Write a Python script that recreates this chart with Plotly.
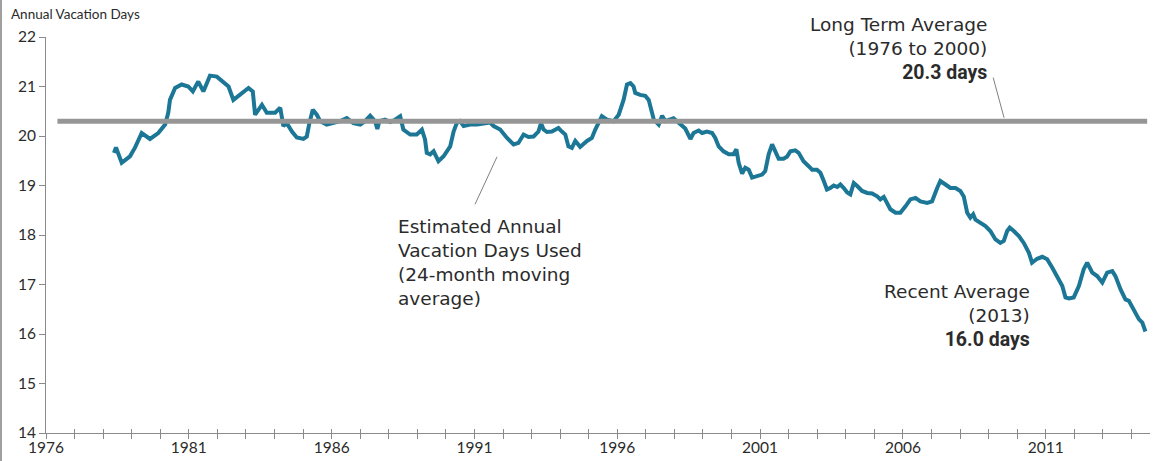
import plotly.graph_objects as go

# ---- data ----
years = [1978.38, 1978.45, 1978.65, 1978.94, 1979.12, 1979.35, 1979.64, 1979.93, 1980.17, 1980.28,
         1980.34, 1980.52, 1980.75, 1980.98, 1981.14, 1981.33, 1981.51, 1981.74, 1981.98, 1982.21,
         1982.39, 1982.56, 1982.80, 1983.09, 1983.24, 1983.32, 1983.56, 1983.73, 1984.02, 1984.20,
         1984.31, 1984.43, 1984.61, 1984.78, 1985.01, 1985.13, 1985.22, 1985.34, 1985.48, 1985.60,
         1985.83, 1986.06, 1986.30, 1986.53, 1986.76, 1987.00, 1987.17, 1987.35, 1987.52, 1987.60,
         1987.67, 1987.87, 1988.05, 1988.22, 1988.40, 1988.51, 1988.75, 1988.98, 1989.16, 1989.27,
         1989.33, 1989.45, 1989.57, 1989.74, 1989.92, 1990.15, 1990.27, 1990.38, 1990.50, 1990.62,
         1990.85, 1991.09, 1991.32, 1991.55, 1991.67, 1991.90, 1992.14, 1992.37, 1992.54, 1992.72,
         1992.89, 1993.07, 1993.24, 1993.33, 1993.42, 1993.54, 1993.71, 1993.94, 1994.06, 1994.18,
         1994.29, 1994.41, 1994.53, 1994.70, 1994.94, 1995.11, 1995.23, 1995.34, 1995.46, 1995.64,
         1995.87, 1996.05, 1996.22, 1996.34, 1996.46, 1996.57, 1996.63, 1996.80, 1996.98, 1997.10,
         1997.22, 1997.28, 1997.45, 1997.57, 1997.68, 1997.86, 1997.97, 1998.09, 1998.21, 1998.38,
         1998.56, 1998.67, 1998.85, 1998.97, 1999.14, 1999.32, 1999.43, 1999.55, 1999.72, 1999.90,
         2000.07, 2000.17, 2000.25, 2000.37, 2000.48, 2000.60, 2000.72, 2000.89, 2001.07, 2001.18,
         2001.30, 2001.42, 2001.53, 2001.65, 2001.82, 2001.94, 2002.06, 2002.23, 2002.35, 2002.52,
         2002.70, 2002.82, 2002.99, 2003.11, 2003.23, 2003.34, 2003.46, 2003.58, 2003.70, 2003.81,
         2003.93, 2004.05, 2004.16, 2004.22, 2004.28, 2004.40, 2004.57, 2004.75, 2004.92, 2005.10,
         2005.21, 2005.33, 2005.45, 2005.56, 2005.74, 2005.91, 2006.09, 2006.26, 2006.44, 2006.61,
         2006.85, 2007.02, 2007.20, 2007.31, 2007.49, 2007.66, 2007.84, 2008.01, 2008.13, 2008.25,
         2008.36, 2008.46, 2008.54, 2008.71, 2008.89, 2009.06, 2009.24, 2009.41, 2009.53, 2009.65,
         2009.74, 2009.88, 2010.06, 2010.23, 2010.41, 2010.52, 2010.70, 2010.88, 2011.05, 2011.23,
         2011.40, 2011.58, 2011.69, 2011.81, 2011.98, 2012.16, 2012.33, 2012.45, 2012.63, 2012.80,
         2012.98, 2013.15, 2013.33, 2013.44, 2013.62, 2013.79, 2013.91, 2014.08, 2014.26, 2014.38,
         2014.49]
vacation_days = [19.66, 19.77, 19.46, 19.59, 19.77, 20.06, 19.94, 20.06, 20.23, 20.47,
                 20.73, 20.97, 21.04, 21.00, 20.90, 21.10, 20.90, 21.22, 21.20, 21.10,
                 21.00, 20.73, 20.83, 20.97, 20.90, 20.43, 20.63, 20.47, 20.47, 20.57,
                 20.20, 20.26, 20.09, 19.97, 19.94, 19.99, 20.26, 20.53, 20.43, 20.30,
                 20.23, 20.26, 20.30, 20.36, 20.26, 20.23, 20.30, 20.41, 20.30, 20.14,
                 20.30, 20.33, 20.28, 20.33, 20.40, 20.13, 20.03, 20.03, 20.13, 19.93,
                 19.66, 19.63, 19.69, 19.49, 19.59, 19.79, 20.09, 20.26, 20.30, 20.20,
                 20.23, 20.23, 20.26, 20.27, 20.20, 20.13, 19.96, 19.83, 19.86, 20.03,
                 19.98, 19.99, 20.09, 20.26, 20.13, 20.08, 20.09, 20.16, 20.09, 20.03,
                 19.79, 19.76, 19.90, 19.78, 19.90, 19.96, 20.13, 20.26, 20.40, 20.33,
                 20.30, 20.43, 20.73, 21.04, 21.07, 21.00, 20.87, 20.83, 20.81, 20.73,
                 20.50, 20.33, 20.23, 20.41, 20.30, 20.33, 20.36, 20.30, 20.24, 20.15,
                 19.94, 20.06, 20.11, 20.06, 20.09, 20.06, 19.96, 19.79, 19.69, 19.63,
                 19.63, 19.73, 19.46, 19.24, 19.36, 19.32, 19.16, 19.19, 19.22, 19.29,
                 19.63, 19.83, 19.69, 19.54, 19.54, 19.58, 19.69, 19.71, 19.66, 19.49,
                 19.39, 19.32, 19.32, 19.26, 19.09, 18.92, 18.95, 19.00, 18.97, 19.02,
                 18.95, 18.86, 18.82, 18.95, 19.05, 18.99, 18.89, 18.85, 18.84, 18.78,
                 18.72, 18.77, 18.65, 18.52, 18.45, 18.45, 18.58, 18.72, 18.75, 18.68,
                 18.65, 18.68, 18.95, 19.09, 19.02, 18.95, 18.95, 18.89, 18.78, 18.45,
                 18.35, 18.42, 18.31, 18.25, 18.18, 18.08, 17.91, 17.84, 17.88, 18.08,
                 18.15, 18.08, 17.98, 17.84, 17.64, 17.44, 17.52, 17.56, 17.51, 17.34,
                 17.17, 16.97, 16.74, 16.72, 16.74, 16.97, 17.31, 17.44, 17.24, 17.17,
                 17.04, 17.24, 17.27, 17.17, 16.90, 16.70, 16.67, 16.50, 16.30, 16.23,
                 16.05]

avg_years = [1976.4, 2014.55]
long_term_average = [20.3, 20.3]

tick_years = [1976, 1981, 1986, 1991, 1996, 2001, 2006, 2011]
tick_labels = ["1976", "1981", "1986", "1991", "1996", "2001", "2006", "2011"]
y_ticks = [14, 15, 16, 17, 18, 19, 20, 21, 22]

X_RANGE = [1976, 2014.65]
Y_RANGE = [14, 22]

TEXT = "#2b2b2b"
AXIS = "#8a8a8a"
BLUE = "#1b7795"
GRAY = "#969696"

fig = go.Figure()
fig.add_trace(go.Scatter(x=years, y=vacation_days, mode="lines",
                         line=dict(color=BLUE, width=4), hoverinfo="skip", showlegend=False))
fig.add_trace(go.Scatter(x=avg_years, y=long_term_average, mode="lines",
                         line=dict(color=GRAY, width=5), hoverinfo="skip", showlegend=False))
# invisible traces holding the overlay x-axes that draw the crossing yearly tick marks
for ax in ("x2", "x3"):
    fig.add_trace(go.Scatter(x=[X_RANGE[0]], y=[Y_RANGE[0]], xaxis=ax, mode="markers",
                             marker=dict(opacity=0), hoverinfo="skip", showlegend=False))

tick_font = dict(family="Lato, Open Sans, sans-serif", size=15.5, color=TEXT)
ann_font = dict(family="DejaVu Sans, sans-serif", size=18.5, color=TEXT)
BOLD = '<span style="font-family:Roboto, sans-serif; font-size:19.5px"><b>{}</b></span>'

year_ticks = dict(range=X_RANGE, overlaying="x", anchor="y", side="bottom",
                  tickmode="linear", tick0=1976, dtick=1, tickcolor=AXIS, tickwidth=1,
                  showticklabels=False, showline=False, showgrid=False,
                  zeroline=False, automargin=False, fixedrange=True)

fig.update_layout(
    width=1153, height=461, autosize=False,
    margin=dict(l=46, r=3, t=37, b=28),
    paper_bgcolor="white", plot_bgcolor="white",
    xaxis=dict(range=X_RANGE, tickmode="array", tickvals=tick_years, ticktext=tick_labels,
               ticks="",
               showline=True, linecolor=AXIS, linewidth=1, showgrid=False, zeroline=False,
               tickfont=tick_font, fixedrange=True, automargin=False),
    xaxis2=dict(year_ticks, ticks="outside", ticklen=5),
    xaxis3=dict(year_ticks, ticks="inside", ticklen=4),
    yaxis=dict(range=Y_RANGE, tickmode="array", tickvals=y_ticks,
               ticks="outside", ticklen=6, tickcolor=AXIS, tickwidth=1,
               showline=True, linecolor=AXIS, linewidth=1, showgrid=False, zeroline=False,
               tickfont=tick_font, fixedrange=True, automargin=False),
)

# axis title at top-left
fig.add_annotation(text="Annual Vacation Days", xref="paper", yref="paper",
                   x=-37 / 1104, y=1 + 23 / 396, xanchor="left", yanchor="middle",
                   showarrow=False, font=dict(family="Lato, sans-serif", size=13.5, color=TEXT))

fig.add_annotation(text="Long Term Average<br>(1976 to 2000)<br>" + BOLD.format("20.3 days"),
                   x=2009.02, y=21.76, xref="x", yref="y", xanchor="right", yanchor="middle",
                   align="right", showarrow=False, font=ann_font)
fig.add_annotation(text="Estimated Annual<br>Vacation Days Used<br>(24-month moving<br>average)",
                   x=1988.25, y=17.45, xref="x", yref="y", xanchor="left", yanchor="middle",
                   align="left", showarrow=False, font=ann_font)
fig.add_annotation(text="Recent Average<br>(2013)<br>" + BOLD.format("16.0 days"),
                   x=2010.52, y=16.36, xref="x", yref="y", xanchor="right", yanchor="middle",
                   align="right", showarrow=False, font=ann_font)

# leader lines
fig.add_shape(type="line", x0=2009.16, y0=21.18, x1=2009.54, y1=20.37,
              line=dict(color="#7f7f7f", width=1))
fig.add_shape(type="line", x0=1991.79, y0=19.58, x1=1991.02, y1=18.62,
              line=dict(color="#7f7f7f", width=1))

# thin gray frame on the image's left edge
fig.add_shape(type="line", xref="paper", yref="paper", x0=-45 / 1104, x1=-45 / 1104,
              y0=-28 / 396, y1=1 + 37 / 396, line=dict(color="#a0a0a0", width=2))

fig.write_html("out.html")
